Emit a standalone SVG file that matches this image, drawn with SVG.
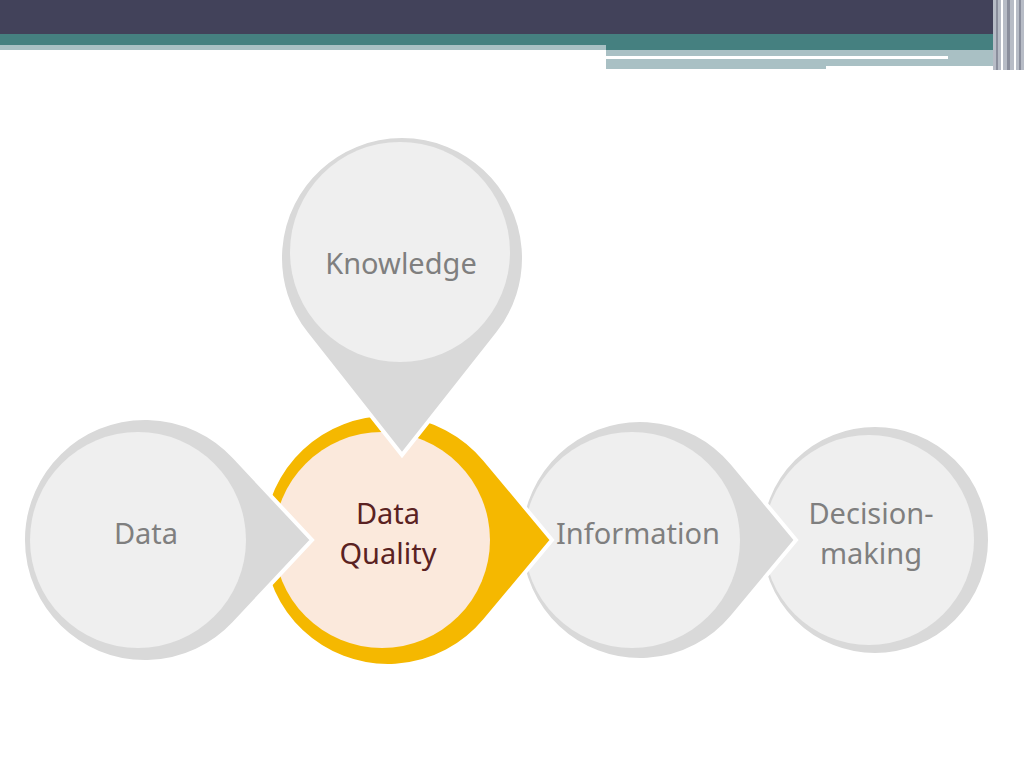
<svg xmlns="http://www.w3.org/2000/svg" width="1024" height="768" viewBox="0 0 1024 768">
<style>
.ring{fill:#d9d9d9;stroke:#fff;stroke-width:4}
.in{fill:#efefef}
.t{font-family:"Noto Sans","DejaVu Sans",sans-serif;font-size:29px;fill:#7f7f7f;text-anchor:middle;font-stretch:condensed}
</style>
<rect width="1024" height="768" fill="#fff"/>
<g id="header">
<rect x="0" y="0" width="1024" height="35" fill="#42425a"/>
<rect x="0" y="34" width="1000" height="16" fill="#458080"/>
<rect x="0" y="45" width="606" height="5" fill="#a9c0c4"/>
<rect x="606" y="50" width="394" height="19" fill="#a9c0c4"/>
<rect x="606" y="56" width="342" height="3" fill="#fff"/>
<rect x="826" y="66" width="174" height="4" fill="#fff"/>
<rect x="993" y="0" width="31" height="70" fill="#b7bcc6"/>
<rect x="996" y="0" width="2" height="70" fill="#8a8e9c"/>
<rect x="1001" y="0" width="2" height="70" fill="#fff"/>
<rect x="1007" y="0" width="3" height="70" fill="#8a8e9c"/>
<rect x="1014" y="0" width="2" height="70" fill="#fff"/>
<rect x="1019" y="0" width="2" height="70" fill="#8a8e9c"/>
</g>
<g id="decision">
<circle class="ring" cx="875" cy="540" r="115"/>
<circle class="in" cx="869" cy="540" r="105"/>
<text class="t" x="871" y="524">Decision-</text>
<text class="t" x="871" y="564">making</text>
</g>
<g id="information">
<path class="ring" d="M732.3 463.3 L796 540 L732.3 616.7 A120 120 0 1 1 732.3 463.3 Z"/>
<circle class="in" cx="632" cy="540" r="108"/>
<text class="t" x="638" y="544">Information</text>
</g>
<g id="dataquality">
<path d="M484.8 459.4 L552 540 L484.8 620.6 A126 126 0 1 1 484.8 459.4 Z" fill="#f5b800" stroke="#fff" stroke-width="4"/>
<circle cx="382" cy="540" r="108" fill="#fbe9dc"/>
<text class="t" x="388" y="524" style="fill:#5a2222">Data</text>
<text class="t" x="388" y="564" style="fill:#5a2222">Quality</text>
</g>
<g id="data">
<path class="ring" d="M234.1 456.7 L312 540 L234.1 623.3 A122 122 0 1 1 234.1 456.7 Z"/>
<circle class="in" cx="138" cy="540" r="108"/>
<text class="t" x="146" y="544">Data</text>
</g>
<g id="knowledge">
<path class="ring" d="M497.8 333.6 L402 455 L306.2 333.6 A122 122 0 1 1 497.8 333.6 Z"/>
<circle class="in" cx="400" cy="252" r="110"/>
<text class="t" x="401" y="274">Knowledge</text>
</g>
<g id="connectors"></g>
</svg>
